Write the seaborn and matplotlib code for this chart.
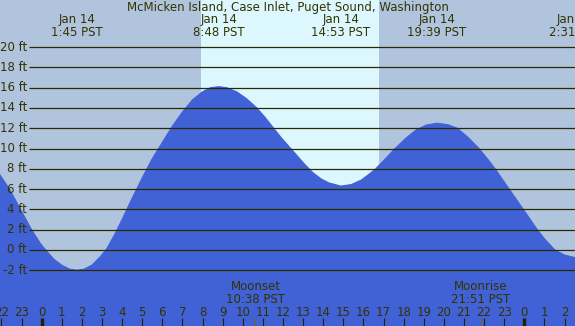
import numpy as np
import matplotlib
matplotlib.use("Agg")
import matplotlib.pyplot as plt
import seaborn as sns

# Tide heights (hours since midnight Jan 14, feet)
tide_hours = [-2.07, -1.60, -1.05, -0.50, -0.05, 0.20, 0.60, 1.00, 1.40, 1.75, 2.10,
              2.50, 2.90, 3.20, 3.60, 4.00, 4.50, 5.00, 5.50, 6.00, 6.50, 7.00,
              7.50, 8.00, 8.40, 8.80, 9.20, 9.70, 10.20, 10.70, 11.10, 11.50, 11.90,
              12.30, 12.70, 13.10, 13.50, 13.90, 14.30, 14.88, 15.40, 15.90, 16.30,
              16.61, 17.10, 17.57, 18.10, 18.60, 19.10, 19.65, 20.20, 20.67, 21.20,
              21.75, 22.20, 22.55, 22.90, 23.25, 23.60, 23.95, 24.30, 24.61, 25.00,
              25.52, 26.00, 26.52]
tide_feet = [7.4, 6.0, 4.0, 2.0, 0.6, 0.0, -0.9, -1.5, -1.9, -2.0, -1.9,
             -1.5, -0.7, 0.0, 1.4, 3.0, 5.1, 7.1, 9.0, 10.6, 12.2, 13.6,
             14.8, 15.6, 16.0, 16.1, 16.0, 15.6, 14.9, 14.0, 13.1, 12.1, 11.1,
             10.2, 9.3, 8.4, 7.6, 7.0, 6.6, 6.3, 6.45, 6.9, 7.5,
             8.0, 9.0, 10.0, 11.0, 11.8, 12.3, 12.5, 12.35, 12.0, 11.1,
             10.0, 8.9, 8.0, 7.0, 6.0, 5.0, 4.0, 3.0, 2.1, 1.1,
             0.0, -0.5, -0.75]

# extreme labels at the top
extreme_hours = [1.75, 8.80, 14.883, 19.65, 26.517]
extreme_labels = ["Jan 14\n1:45 PST", "Jan 14\n8:48 PST", "Jan 14\n14:53 PST",
                  "Jan 14\n19:39 PST", "Jan 14\n2:31 PST"]

sunrise, sunset = 7.92, 16.77
moon_hours = [10.633, 21.85]
moon_labels = ["Moonset\n10:38 PST", "Moonrise\n21:51 PST"]

grid_feet = [20, 18, 16, 14, 12, 10, 8, 6, 4, 2, 0, -2]
hour_ticks = list(range(-2, 27))

title = "McMicken Island, Case Inlet, Puget Sound, Washington"

night_color = "#B0C4DE"
day_color = "#DDF7FF"
tide_color = "#4161D6"
text_color = "#333300"
fs = 8.5

sns.set_style("white")
plt.rcParams['font.family'] = ['DejaVu Sans']

fig = plt.figure(figsize=(5.75, 3.26), dpi=100)
ax = fig.add_axes([0, 0, 1, 1])
ax.set_xlim(-2.07, 26.52)
ax.set_ylim(-7.5, 24.65)
ax.set_facecolor(night_color)
ax.axvspan(sunrise, sunset, color=day_color, lw=0, zorder=0)

ax.fill_between(tide_hours, tide_feet, -10, color=tide_color, lw=0, zorder=1)
sns.lineplot(x=tide_hours, y=tide_feet, color=tide_color, lw=0.8, ax=ax, zorder=1)

# horizontal grid lines and labels
ytr = ax.get_yaxis_transform()
ax.hlines(grid_feet, 29 / 575, 1, transform=ytr, color="#2a2a00", lw=0.9, zorder=2)
for ft in grid_feet:
    ax.text(27 / 575, ft, f"{ft} ft", transform=ytr, ha='right', va='center',
            fontsize=fs, color=text_color)

# hour ticks at bottom
xtr = ax.get_xaxis_transform()
for h in hour_ticks:
    bold = h % 24 == 0
    ax.plot([h, h], [0, 8 / 326], transform=xtr, color="#222200",
            lw=2.5 if bold else 0.8, solid_capstyle='butt', zorder=3)
    ax.text(h, 14 / 326, str(h % 24), transform=xtr, ha='center', va='center',
            fontsize=fs, color=text_color)

for mh, ml in zip(moon_hours, moon_labels):
    ax.plot([mh, mh], [0, 8 / 326], transform=xtr, color="#806020", lw=0.8,
            solid_capstyle='butt', zorder=3)
    ax.text(mh, 1 - 293 / 326, ml, transform=xtr, ha='center', va='center',
            fontsize=fs, color=text_color, linespacing=1.0)

for eh, el in zip(extreme_hours, extreme_labels):
    ax.text(eh, 1 - 25.5 / 326, el, transform=xtr, ha='center', va='center',
            fontsize=fs, color=text_color, linespacing=1.0)

fig.text(0.5, 1 - 7 / 326, title, ha='center', va='center', fontsize=fs, color=text_color)

ax.set_xticks([])
ax.set_yticks([])
ax.set_xlabel("")
ax.set_ylabel("")
for s in ax.spines.values():
    s.set_visible(False)

fig.savefig("out.png", dpi=100)
